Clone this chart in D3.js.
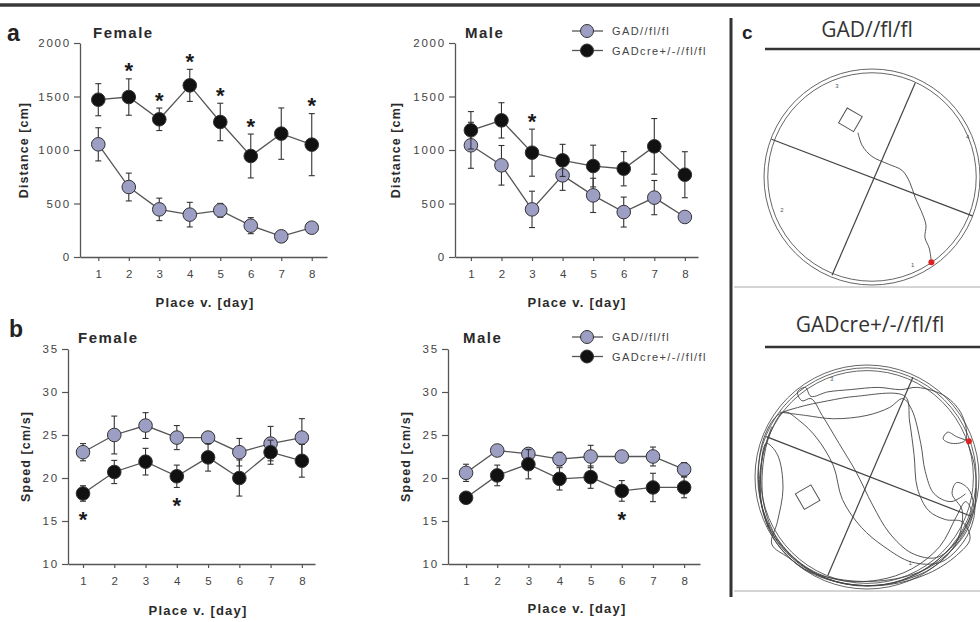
<!DOCTYPE html>
<html>
<head>
<meta charset="utf-8">
<script src="https://cdn.jsdelivr.net/npm/d3@7"></script>
<style>
  body { margin: 0; background: #fff; }
  svg { display: block; font-family: "Liberation Sans", Arial, sans-serif; }
</style>
</head>
<body>
<svg></svg>
<script>
// --- data ---
const days = [1, 2, 3, 4, 5, 6, 7, 8]
const groups = ['GAD//fl/fl', 'GADcre+/-//fl/fl']

const distTicks = [0, 500, 1000, 1500, 2000]
const speedTicks = [10, 15, 20, 25, 30, 35]

const distFemaleCtrl = [1053, 654, 445, 396, 436, 293, 193, 274]
const distFemaleCtrlErr = [155, 130, 105, 115, 65, 75, 20, 35]
const distFemaleKO = [1470, 1495, 1287, 1604, 1262, 944, 1153, 1050]
const distFemaleKOErr = [150, 170, 105, 150, 175, 205, 240, 290]
const distFemaleSig = [2, 3, 4, 5, 6, 8]

const distMaleCtrl = [1044, 857, 445, 763, 576, 420, 555, 374]
const distMaleCtrlErr = [215, 185, 170, 140, 160, 140, 160, 40]
const distMaleKO = [1184, 1277, 975, 903, 850, 825, 1034, 769]
const distMaleKOErr = [175, 165, 220, 150, 195, 160, 260, 215]
const distMaleSig = [3]

const speedFemaleCtrl = [23.0, 25.0, 26.1, 24.7, 24.7, 23.0, 24.0, 24.7]
const speedFemaleCtrlErr = [1.0, 2.2, 1.5, 1.4, 0.7, 1.6, 2.0, 2.2]
const speedFemaleKO = [18.2, 20.7, 21.9, 20.2, 22.4, 20.0, 23.0, 22.0]
const speedFemaleKOErr = [0.9, 1.35, 1.55, 1.3, 1.6, 2.1, 1.4, 1.9]
const speedFemaleSig = [1, 4]

const speedMaleCtrl = [20.6, 23.2, 22.8, 22.2, 22.5, 22.5, 22.5, 21.0]
const speedMaleCtrlErr = [1.0, 0.6, 0.6, 0.8, 1.3, 0.5, 1.1, 0.8]
const speedMaleKO = [17.7, 20.3, 21.6, 19.9, 20.1, 18.5, 18.9, 18.9]
const speedMaleKOErr = [0.6, 1.2, 1.7, 1.3, 1.3, 1.2, 1.65, 1.2]
const speedMaleSig = [6]

// arena tracks (normalised to arena radius, y down)
const topCross = [[[-0.93, -0.35], [0.93, 0.36]], [[0.40, -0.87], [-0.37, 0.91]]]
const topTracks = [[[-0.13, -0.41], [-0.09, -0.29], [0.0, -0.19], [0.15, -0.12], [0.28, -0.06],
  [0.35, 0.05], [0.40, 0.19], [0.47, 0.35], [0.50, 0.45], [0.49, 0.56], [0.53, 0.66], [0.55, 0.79]]]
const topMarks = [['3', -0.34, -0.82], ['4', 0.87, -0.35], ['2', -0.85, 0.32], ['1', 0.36, 0.83]]

const bottomCross = [[[-0.90, -0.36], [0.93, 0.35]], [[0.41, -0.89], [-0.35, 0.88]]]
const bottomTracks = [
  [[0.91, -0.32], [0.80, -0.36], [0.72, -0.40], [0.68, -0.34], [0.76, -0.30],
  [0.88, -0.33], [0.85, -0.55], [0.70, -0.72], [0.45, -0.80], [0.30, -0.78], [0.10, -0.80],
  [-0.15, -0.78], [-0.35, -0.76], [-0.50, -0.72], [-0.55, -0.80], [-0.62, -0.76], [-0.58, -0.68],
  [-0.50, -0.70], [-0.40, -0.55], [-0.25, -0.30], [-0.10, -0.05], [0.05, 0.25], [0.20, 0.50],
  [0.40, 0.68], [0.62, 0.72], [0.78, 0.60], [0.88, 0.45], [0.95, 0.25], [0.90, 0.10],
  [0.80, 0.05], [0.76, 0.15], [0.85, 0.30], [0.80, 0.58], [0.60, 0.80], [0.30, 0.93],
  [0.0, 0.97], [-0.30, 0.93], [-0.60, 0.78], [-0.82, 0.55], [-0.94, 0.25], [-0.97, -0.05],
  [-0.92, -0.35], [-0.80, -0.55], [-0.62, -0.62], [-0.35, -0.68], [-0.10, -0.72], [0.34, -0.72],
  [0.38, -0.50], [0.42, -0.20], [0.45, 0.10], [0.55, 0.30], [0.70, 0.38], [0.85, 0.40],
  [0.92, 0.55], [0.80, 0.70], [0.55, 0.86], [0.20, 0.96], [-0.20, 0.95], [-0.55, 0.83],
  [-0.80, 0.60], [-0.93, 0.30], [-0.95, 0.0], [-0.90, -0.30], [-0.80, -0.20], [-0.75, 0.10],
  [-0.80, 0.40], [-0.85, 0.60], [-0.70, 0.72], [-0.50, 0.85], [-0.10, 0.93], [0.30, 0.90],
  [0.60, 0.78], [0.88, 0.50], [0.97, 0.20], [0.96, -0.10], [0.90, -0.30]],
  [[-0.85, -0.45], [-0.93, -0.20], [-0.96, 0.10], [-0.90, 0.40], [-0.75, 0.63], [-0.50, 0.84],
  [-0.20, 0.95], [0.15, 0.96], [0.45, 0.86], [0.70, 0.68], [0.86, 0.48], [0.93, 0.30],
  [0.88, 0.22], [0.80, 0.35], [0.65, 0.62], [0.40, 0.82], [0.10, 0.92], [-0.25, 0.92],
  [-0.55, 0.80], [-0.80, 0.55], [-0.92, 0.25], [-0.93, -0.10], [-0.86, -0.40], [-0.74, -0.58],
  [-0.60, -0.50], [-0.45, -0.35], [-0.30, -0.10], [-0.22, 0.20], [-0.05, 0.45], [0.15, 0.62],
  [0.40, 0.76], [0.66, 0.76], [0.86, 0.58], [0.95, 0.38], [0.97, 0.10]],
  [[-0.78, -0.58], [-0.55, -0.55], [-0.30, -0.52], [0.0, -0.55], [0.20, -0.62], [0.32, -0.70],
  [0.40, -0.60], [0.48, -0.30], [0.52, -0.05], [0.60, 0.15], [0.75, 0.22], [0.88, 0.15]]
]
const bottomMarks = [['3', -0.33, -0.86], ['2', -0.90, 0.45], ['1', 0.37, 0.79]]

// --- canvas ---
const svg = d3.select('svg').attr('width', 980).attr('height', 622)
svg.append('rect').attr('width', 980).attr('height', 622).attr('fill', '#fff')

// top rule
svg.append('line').attr('x1', 0).attr('x2', 980).attr('y1', 5).attr('y2', 5)
  .attr('stroke', '#3a3a3a').attr('stroke-width', 3.5)

const panels = [
  { ctrl: distFemaleCtrl, ctrlErr: distFemaleCtrlErr, ko: distFemaleKO, koErr: distFemaleKOErr, sig: distFemaleSig, sigBelow: false,
    xDomain: [0.4, 8.5], xRange: [80, 327], yDomain: [0, 2000], yRange: [257, 43], ticks: distTicks,
    title: 'Female', tx: 93, ty: 37.5, ylab: 'Distance [cm]', ylx: 28, xlx: 205, xly: 307, legend: false },
  { ctrl: distMaleCtrl, ctrlErr: distMaleCtrlErr, ko: distMaleKO, koErr: distMaleKOErr, sig: distMaleSig, sigBelow: false,
    xDomain: [0.48, 8.43], xRange: [455, 698], yDomain: [0, 2000], yRange: [257, 43], ticks: distTicks,
    title: 'Male', tx: 465, ty: 37.5, ylab: 'Distance [cm]', ylx: 400, xlx: 577, xly: 307, legend: true, ly: 31 },
  { ctrl: speedFemaleCtrl, ctrlErr: speedFemaleCtrlErr, ko: speedFemaleKO, koErr: speedFemaleKOErr, sig: speedFemaleSig, sigBelow: true,
    xDomain: [0.52, 8.42], xRange: [68, 315], yDomain: [10, 35], yRange: [564, 349], ticks: speedTicks,
    title: 'Female', tx: 78, ty: 342.5, ylab: 'Speed [cm/s]', ylx: 30, xlx: 198, xly: 615, legend: false },
  { ctrl: speedMaleCtrl, ctrlErr: speedMaleCtrlErr, ko: speedMaleKO, koErr: speedMaleKOErr, sig: speedMaleSig, sigBelow: true,
    xDomain: [0.42, 8.51], xRange: [448, 700], yDomain: [10, 35], yRange: [564, 349], ticks: speedTicks,
    title: 'Male', tx: 463, ty: 342.5, ylab: 'Speed [cm/s]', ylx: 410, xlx: 577, xly: 613, legend: true, ly: 337 }
]

const ctrlFill = '#9c9ec4'
const koFill = '#111'

panels.forEach(p => {
  let x = d3.scaleLinear().domain(p.xDomain).range(p.xRange)
  let y = d3.scaleLinear().domain(p.yDomain).range(p.yRange)
  let g = svg.append('g')

  // axes
  let yAxis = d3.axisLeft(y).tickValues(p.ticks).tickSize(6).tickPadding(3).tickSizeOuter(0).tickFormat(d3.format('d'))
  let ya = g.append('g').attr('transform', 'translate(' + p.xRange[0] + ',0)').call(yAxis)
  let xAxis = d3.axisBottom(x).tickValues(days).tickSize(4).tickPadding(9).tickSizeOuter(0).tickFormat(d3.format('d'))
  let xa = g.append('g').attr('transform', 'translate(0,' + p.yRange[0] + ')').call(xAxis)
  ;[ya, xa].forEach(a => {
    a.select('.domain').attr('stroke', '#555').attr('stroke-width', 1.3)
    a.selectAll('.tick line').attr('stroke', '#555').attr('stroke-width', 1.2)
    a.selectAll('.tick text').attr('fill', '#444').style('font-size', '11.5px')
  })
  ya.selectAll('.tick text').style('letter-spacing', '1.8px')

  // titles
  g.append('text').attr('x', p.tx).attr('y', p.ty).text(p.title)
    .style('font-size', '15px').style('font-weight', 'bold').style('letter-spacing', '1.5px').attr('fill', '#2a2a2a')
  g.append('text').attr('x', p.xlx).attr('y', p.xly).attr('text-anchor', 'middle').text('Place v. [day]')
    .style('font-size', '13px').style('font-weight', 'bold').style('letter-spacing', '1.2px').attr('fill', '#2a2a2a')
  g.append('text').attr('transform', 'translate(' + p.ylx + ',' + (p.yRange[0] + p.yRange[1]) / 2 + ') rotate(-90)')
    .attr('text-anchor', 'middle').text(p.ylab)
    .style('font-size', '12.5px').style('font-weight', 'bold').style('letter-spacing', '1.1px').attr('fill', '#2a2a2a')

  // series
  let series = [
    { mean: p.ctrl, err: p.ctrlErr, fill: ctrlFill },
    { mean: p.ko, err: p.koErr, fill: koFill }
  ]
  series.forEach(s => {
    let pts = days.map((d, i) => ({ day: d, mean: s.mean[i], err: s.err[i] }))
    g.append('path').datum(pts)
      .attr('d', d3.line().x(d => x(d.day)).y(d => y(d.mean)))
      .attr('fill', 'none').attr('stroke', '#555').attr('stroke-width', 1.3)
    let eb = g.append('g').attr('stroke', '#333').attr('stroke-width', 1.1)
    eb.selectAll('line.v').data(pts).enter().append('line')
      .attr('x1', d => x(d.day)).attr('x2', d => x(d.day))
      .attr('y1', d => y(d.mean - d.err)).attr('y2', d => y(d.mean + d.err))
    eb.selectAll('line.t').data(pts).enter().append('line')
      .attr('x1', d => x(d.day) - 3).attr('x2', d => x(d.day) + 3)
      .attr('y1', d => y(d.mean + d.err)).attr('y2', d => y(d.mean + d.err))
    eb.selectAll('line.b').data(pts).enter().append('line')
      .attr('x1', d => x(d.day) - 3).attr('x2', d => x(d.day) + 3)
      .attr('y1', d => y(d.mean - d.err)).attr('y2', d => y(d.mean - d.err))
    g.selectAll(null).data(pts).enter().append('circle')
      .attr('cx', d => x(d.day)).attr('cy', d => y(d.mean)).attr('r', 6.8)
      .attr('fill', s.fill).attr('stroke', '#333').attr('stroke-width', 1)
  })

  // significance asterisks on the knockout series
  g.selectAll(null).data(p.sig).enter().append('text')
    .attr('x', d => x(d)).attr('text-anchor', 'middle')
    .attr('y', d => {
      let i = d - 1
      let cy = p.sigBelow ? y(p.ko[i] - p.koErr[i]) + 13 : y(p.ko[i] + p.koErr[i]) - 13
      return cy + 12.5
    })
    .text('*').style('font-size', '22px').style('font-weight', 'bold').attr('fill', '#1a1a1a')

  // legend
  if (p.legend) {
    groups.forEach((name, i) => {
      let ly = p.ly + i * 19.5
      g.append('line').attr('x1', 572).attr('x2', 603).attr('y1', ly).attr('y2', ly)
        .attr('stroke', '#555').attr('stroke-width', 1.3)
      g.append('circle').attr('cx', 587).attr('cy', ly).attr('r', 6.5)
        .attr('fill', i === 0 ? ctrlFill : koFill).attr('stroke', '#333')
      g.append('text').attr('x', 612).attr('y', ly + 4).text(name)
        .style('font-size', '11px').style('letter-spacing', '1.4px').attr('fill', '#444')
    })
  }
})

// panel letters
svg.append('text').attr('x', 7).attr('y', 41).text('a').style('font-size', '23px').style('font-weight', 'bold').attr('fill', '#222')
svg.append('text').attr('x', 9).attr('y', 337).text('b').style('font-size', '23px').style('font-weight', 'bold').attr('fill', '#222')
svg.append('text').attr('x', 742).attr('y', 39).text('c').style('font-size', '19px').style('font-weight', 'bold').attr('fill', '#222')

// --- panel c ---
svg.append('line').attr('x1', 731).attr('x2', 731).attr('y1', 18).attr('y2', 597)
  .attr('stroke', '#333').attr('stroke-width', 3)

const arenas = [
  { label: groups[0], lx: 867, ly: 37, rule: 49, sep: 287, cx: 872, cy: 177, r: 108, rings: [1, 0.965],
    cross: topCross, tracks: topTracks, marks: topMarks, box: [-0.2, -0.53], boxAngle: 30, end: [0.55, 0.79] },
  { label: groups[1], lx: 870, ly: 332, rule: 347, sep: 591, cx: 867, cy: 477, r: 112, rings: [1, 0.975, 0.95],
    cross: bottomCross, tracks: bottomTracks, marks: bottomMarks, box: [-0.53, 0.18], boxAngle: -30, end: [0.91, -0.32] }
]

arenas.forEach(a => {
  let sx = d3.scaleLinear().domain([-1, 1]).range([a.cx - a.r, a.cx + a.r])
  let sy = d3.scaleLinear().domain([-1, 1]).range([a.cy - a.r, a.cy + a.r])
  let g = svg.append('g')

  g.append('text').attr('x', a.lx).attr('y', a.ly).attr('text-anchor', 'middle').text(a.label)
    .style('font-family', '"Open Sans", "Noto Sans", sans-serif').style('font-size', '21px').attr('fill', '#333')
  g.append('line').attr('x1', 765).attr('x2', 980).attr('y1', a.rule).attr('y2', a.rule)
    .attr('stroke', '#333').attr('stroke-width', 2.5)
  g.append('line').attr('x1', 734).attr('x2', 980).attr('y1', a.sep).attr('y2', a.sep)
    .attr('stroke', '#aaa').attr('stroke-width', 1)

  a.rings.forEach(k => {
    g.append('ellipse').attr('cx', sx(0)).attr('cy', sy(0))
      .attr('rx', sx(k) - sx(0)).attr('ry', sy(k) - sy(0))
      .attr('fill', 'none').attr('stroke', '#666').attr('stroke-width', 1)
  })
  a.cross.forEach(c => {
    g.append('line').attr('x1', sx(c[0][0])).attr('y1', sy(c[0][1]))
      .attr('x2', sx(c[1][0])).attr('y2', sy(c[1][1]))
      .attr('stroke', '#444').attr('stroke-width', 1.2)
  })
  let bs = sx(0.08) - sx(0)
  g.append('rect').attr('x', -bs).attr('y', -bs).attr('width', 2 * bs).attr('height', 2 * bs)
    .attr('transform', 'translate(' + sx(a.box[0]) + ',' + sy(a.box[1]) + ') rotate(' + a.boxAngle + ')')
    .attr('fill', 'none').attr('stroke', '#555').attr('stroke-width', 1)
  g.selectAll(null).data(a.marks).enter().append('text')
    .attr('x', d => sx(d[1])).attr('y', d => sy(d[2])).text(d => d[0])
    .style('font-size', '6px').attr('fill', '#555')
  g.selectAll(null).data(a.tracks).enter().append('path')
    .attr('d', d3.line().x(d => sx(d[0])).y(d => sy(d[1])).curve(d3.curveCatmullRom))
    .attr('fill', 'none').attr('stroke', '#444').attr('stroke-width', 0.9)
  g.append('circle').attr('cx', sx(a.end[0])).attr('cy', sy(a.end[1])).attr('r', 3).attr('fill', '#d22')
})
</script>
</body>
</html>
